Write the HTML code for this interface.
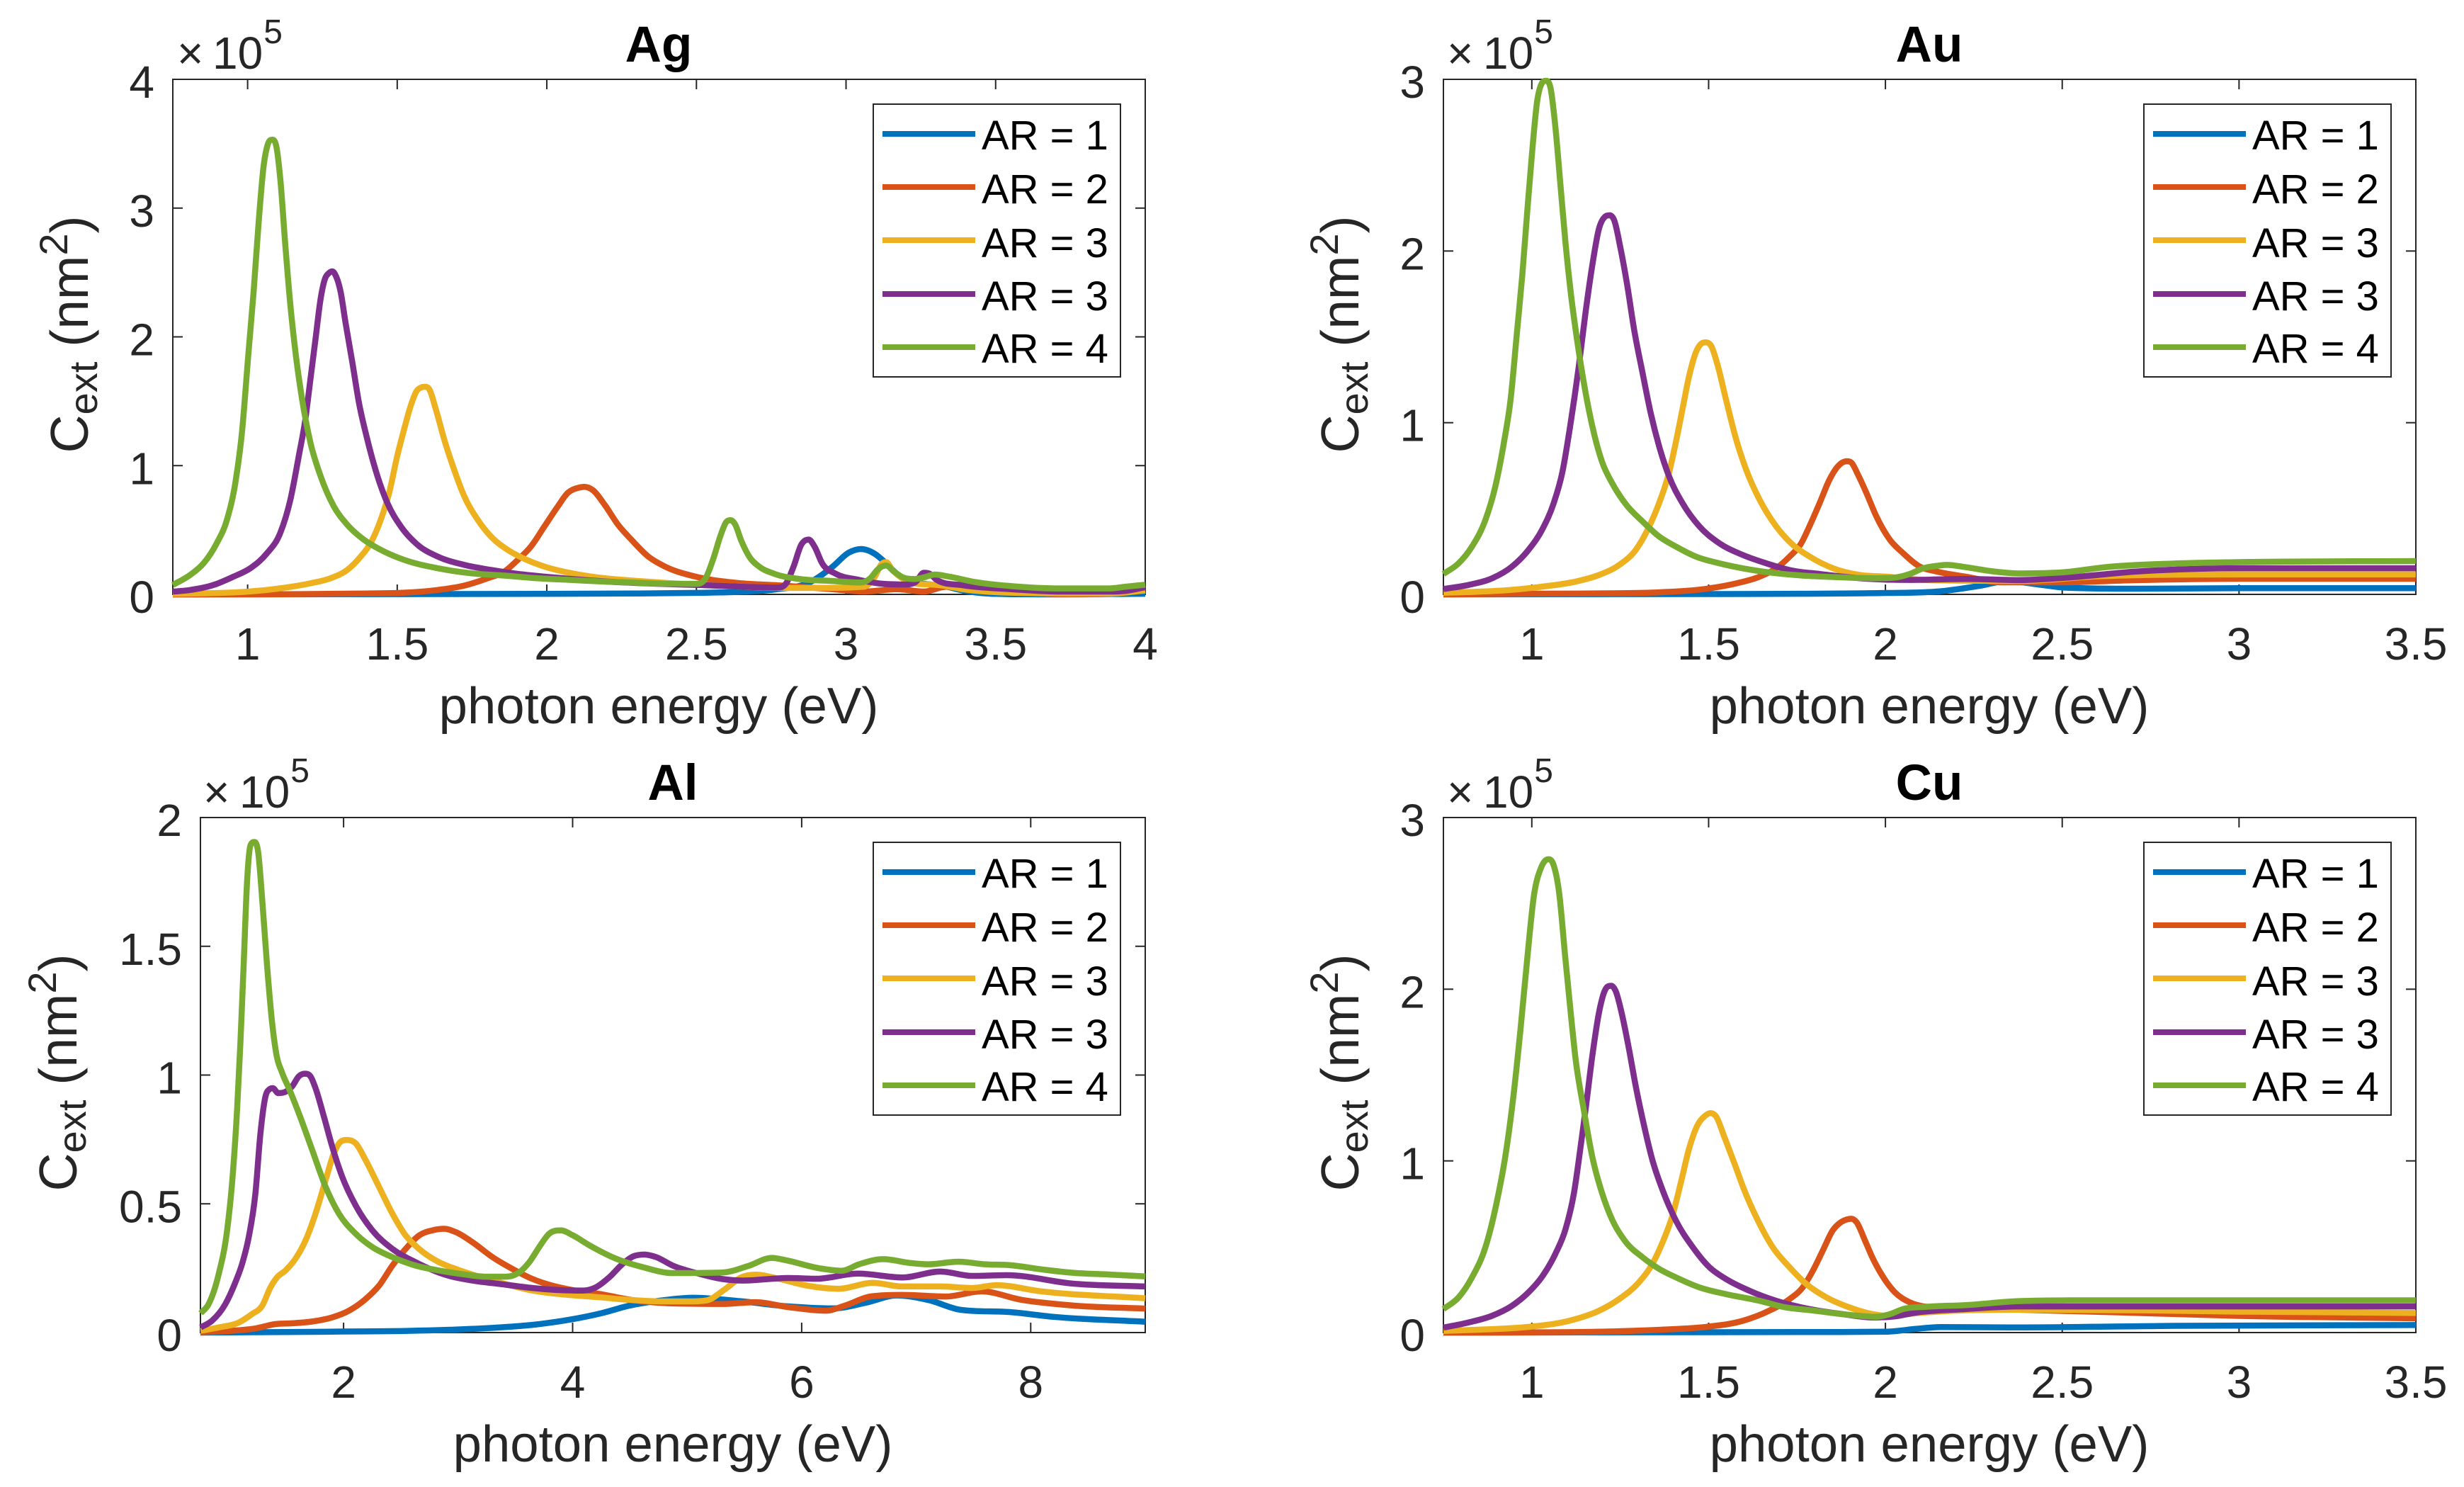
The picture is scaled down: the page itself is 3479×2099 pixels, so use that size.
<!DOCTYPE html>
<html lang="en">
<head>
<meta charset="utf-8">
<title>Extinction cross section vs photon energy</title>
<style>
html,body{margin:0;padding:0;background:#fff;}
svg{display:block;font-family:"Liberation Sans",sans-serif;}
.box{fill:#fff;stroke:#262626;stroke-width:2;}
.title{font-size:71px;font-weight:bold;text-anchor:middle;fill:#000;}
.xlabel{font-size:72.5px;text-anchor:middle;fill:#262626;}
.ylabel{font-size:75px;text-anchor:middle;fill:#262626;}
.mult{font-size:64px;fill:#262626;}
.tick{font-size:64px;fill:#262626;}
.leg-box{fill:#fff;stroke:#262626;stroke-width:2;}
.leg-text{font-size:58px;fill:#000;}
.leg-line{stroke-width:8;fill:none;}
.c1{stroke:#0072BD;}.c2{stroke:#D95319;}.c3{stroke:#EDB120;}.c4{stroke:#7E2F8E;}.c5{stroke:#77AC30;}
</style>
</head>
<body>
<svg xmlns="http://www.w3.org/2000/svg" width="3479" height="2099" viewBox="0 0 3479 2099">

<!-- Ag -->
<g>
  <rect class="box" x="244" y="112" width="1373" height="727"/>
  <g id="ag-ticks"></g>
  <g id="ag-lines"></g>
  <text class="title" x="930" y="87">Ag</text>
  <text class="xlabel" x="930" y="1021">photon energy (eV)</text>
  <text class="ylabel" transform="translate(124,472) rotate(-90)">C<tspan font-size="56" dy="13">ext</tspan><tspan dy="-13" xml:space="preserve"> (nm</tspan><tspan font-size="56" dy="-29">2</tspan><tspan dy="29">)</tspan></text>
  <text class="mult" y="97"><tspan x="250">×</tspan><tspan x="300">10</tspan><tspan font-size="48" dy="-36" dx="1">5</tspan></text>
  <g transform="translate(1233,147)">
    <rect class="leg-box" width="349" height="385"/>
    <line class="leg-line c1" x1="13" x2="144" y1="42" y2="42"/><text class="leg-text" x="153" y="64">AR = 1</text>
    <line class="leg-line c2" x1="13" x2="144" y1="117" y2="117"/><text class="leg-text" x="153" y="140">AR = 2</text>
    <line class="leg-line c3" x1="13" x2="144" y1="192" y2="192"/><text class="leg-text" x="153" y="216">AR = 3</text>
    <line class="leg-line c4" x1="13" x2="144" y1="268" y2="268"/><text class="leg-text" x="153" y="291">AR = 3</text>
    <line class="leg-line c5" x1="13" x2="144" y1="343" y2="343"/><text class="leg-text" x="153" y="365">AR = 4</text>
  </g>
</g>

<!-- Au -->
<g>
  <rect class="box" x="2038" y="112" width="1373" height="727"/>
  <g id="au-ticks"></g>
  <g id="au-lines"></g>
  <text class="title" x="2724" y="87">Au</text>
  <text class="xlabel" x="2724" y="1021">photon energy (eV)</text>
  <text class="ylabel" transform="translate(1918,472) rotate(-90)">C<tspan font-size="56" dy="13">ext</tspan><tspan dy="-13" xml:space="preserve"> (nm</tspan><tspan font-size="56" dy="-29">2</tspan><tspan dy="29">)</tspan></text>
  <text class="mult" y="97"><tspan x="2043">×</tspan><tspan x="2094">10</tspan><tspan font-size="48" dy="-36" dx="1">5</tspan></text>
  <g transform="translate(3027,147)">
    <rect class="leg-box" width="349" height="385"/>
    <line class="leg-line c1" x1="13" x2="144" y1="42" y2="42"/><text class="leg-text" x="153" y="64">AR = 1</text>
    <line class="leg-line c2" x1="13" x2="144" y1="117" y2="117"/><text class="leg-text" x="153" y="140">AR = 2</text>
    <line class="leg-line c3" x1="13" x2="144" y1="192" y2="192"/><text class="leg-text" x="153" y="216">AR = 3</text>
    <line class="leg-line c4" x1="13" x2="144" y1="268" y2="268"/><text class="leg-text" x="153" y="291">AR = 3</text>
    <line class="leg-line c5" x1="13" x2="144" y1="343" y2="343"/><text class="leg-text" x="153" y="365">AR = 4</text>
  </g>
</g>

<!-- Al -->
<g>
  <rect class="box" x="283" y="1154" width="1334" height="727"/>
  <g id="al-ticks"></g>
  <g id="al-lines"></g>
  <text class="title" x="950" y="1129">Al</text>
  <text class="xlabel" x="950" y="2063">photon energy (eV)</text>
  <text class="ylabel" transform="translate(108,1514) rotate(-90)">C<tspan font-size="56" dy="13">ext</tspan><tspan dy="-13" xml:space="preserve"> (nm</tspan><tspan font-size="56" dy="-29">2</tspan><tspan dy="29">)</tspan></text>
  <text class="mult" y="1140"><tspan x="287">×</tspan><tspan x="338">10</tspan><tspan font-size="48" dy="-36" dx="1">5</tspan></text>
  <g transform="translate(1233,1189)">
    <rect class="leg-box" width="349" height="385"/>
    <line class="leg-line c1" x1="13" x2="144" y1="42" y2="42"/><text class="leg-text" x="153" y="64">AR = 1</text>
    <line class="leg-line c2" x1="13" x2="144" y1="117" y2="117"/><text class="leg-text" x="153" y="140">AR = 2</text>
    <line class="leg-line c3" x1="13" x2="144" y1="192" y2="192"/><text class="leg-text" x="153" y="216">AR = 3</text>
    <line class="leg-line c4" x1="13" x2="144" y1="268" y2="268"/><text class="leg-text" x="153" y="291">AR = 3</text>
    <line class="leg-line c5" x1="13" x2="144" y1="343" y2="343"/><text class="leg-text" x="153" y="365">AR = 4</text>
  </g>
</g>

<!-- Cu -->
<g>
  <rect class="box" x="2038" y="1154" width="1373" height="727"/>
  <g id="cu-ticks"></g>
  <g id="cu-lines"></g>
  <text class="title" x="2724" y="1129">Cu</text>
  <text class="xlabel" x="2724" y="2063">photon energy (eV)</text>
  <text class="ylabel" transform="translate(1918,1514) rotate(-90)">C<tspan font-size="56" dy="13">ext</tspan><tspan dy="-13" xml:space="preserve"> (nm</tspan><tspan font-size="56" dy="-29">2</tspan><tspan dy="29">)</tspan></text>
  <text class="mult" y="1140"><tspan x="2043">×</tspan><tspan x="2094">10</tspan><tspan font-size="48" dy="-36" dx="1">5</tspan></text>
  <g transform="translate(3027,1189)">
    <rect class="leg-box" width="349" height="385"/>
    <line class="leg-line c1" x1="13" x2="144" y1="42" y2="42"/><text class="leg-text" x="153" y="64">AR = 1</text>
    <line class="leg-line c2" x1="13" x2="144" y1="117" y2="117"/><text class="leg-text" x="153" y="140">AR = 2</text>
    <line class="leg-line c3" x1="13" x2="144" y1="192" y2="192"/><text class="leg-text" x="153" y="216">AR = 3</text>
    <line class="leg-line c4" x1="13" x2="144" y1="268" y2="268"/><text class="leg-text" x="153" y="291">AR = 3</text>
    <line class="leg-line c5" x1="13" x2="144" y1="343" y2="343"/><text class="leg-text" x="153" y="365">AR = 4</text>
  </g>
</g>
</svg>

<script>
// Tick labels
const agXTicks = ['1','1.5','2','2.5','3','3.5','4'];
const agYTicks = ['0','1','2','3','4'];
const auXTicks = ['1','1.5','2','2.5','3','3.5'];
const auYTicks = ['0','1','2','3'];
const alXTicks = ['2','4','6','8'];
const alYTicks = ['0','0.5','1','1.5','2'];
const cuXTicks = ['1','1.5','2','2.5','3','3.5'];
const cuYTicks = ['0','1','2','3'];

// Ag: photon energy (eV) / Cext (x 1e5 nm^2)
const agE1 = [.75,1.5,2,2.3,2.5,2.65,2.77,2.88,2.955,3.01,3.05,3.096,3.13,3.17,3.227,3.28,3.335,3.39,3.5,3.7,4];
const agC1 = [0,.002,.004,.007,.012,.02,.04,.095,.215,.325,.352,.315,.25,.16,.095,.077,.06,.03,.004,0,.005];
const agE2 = [.75,1,1.3,1.523,1.635,1.724,1.802,1.858,1.903,1.947,1.992,2.037,2.07,2.104,2.126,2.154,2.193,2.238,2.283,2.339,2.395,2.493,2.63,2.79,2.955,3.06,3.17,3.26,3.335,3.39,3.5,3.6,3.75,3.88,4];
const agC2 = [0,0,.005,.013,.034,.068,.125,.177,.268,.372,.528,.684,.788,.827,.835,.809,.697,.541,.424,.294,.216,.14,.09,.068,.04,.022,.04,.022,.059,.05,.03,.012,.002,.005,.03];
const agE3 = [.75,.853,.998,1.109,1.21,1.277,1.333,1.378,1.411,1.445,1.473,1.5,1.523,1.545,1.565,1.581,1.592,1.607,1.629,1.657,1.69,1.724,1.769,1.813,1.869,1.925,1.992,2.082,2.193,2.305,2.417,2.5,2.65,2.77,2.9,3.06,3.097,3.118,3.134,3.156,3.183,3.237,3.28,3.325,3.39,3.553,3.879,4];
const agC3 = [.005,.008,.021,.047,.086,.125,.19,.294,.398,.58,.788,1.074,1.282,1.464,1.58,1.608,1.612,1.594,1.438,1.204,.97,.762,.58,.45,.346,.276,.216,.164,.125,.104,.086,.075,.06,.05,.05,.06,.14,.233,.25,.187,.132,.082,.077,.068,.04,.013,.007,.03];
const agE4 = [.75,.808,.886,.953,1.009,1.065,1.109,1.143,1.171,1.193,1.21,1.227,1.244,1.257,1.272,1.283,1.294,1.311,1.327,1.35,1.372,1.4,1.434,1.467,1.512,1.568,1.635,1.724,1.813,1.903,1.992,2.082,2.2,2.4,2.52,2.65,2.77,2.8,2.825,2.85,2.875,2.895,2.92,2.966,3.04,3.107,3.194,3.232,3.26,3.28,3.302,3.39,3.553,3.716,3.879,3.933,4];
const agC4 = [.021,.034,.073,.138,.203,.32,.476,.736,1.074,1.36,1.672,1.984,2.296,2.44,2.496,2.509,2.478,2.348,2.114,1.802,1.49,1.204,.918,.71,.528,.385,.294,.229,.19,.159,.138,.12,.1,.08,.072,.06,.053,.086,.218,.384,.426,.37,.242,.16,.114,.086,.077,.095,.168,.16,.114,.071,.04,.022,.022,.027,.055];
const agE5 = [.75,.808,.853,.897,.931,.959,.981,1.003,1.02,1.037,1.054,1.067,1.082,1.096,1.109,1.126,1.143,1.16,1.182,1.21,1.244,1.288,1.333,1.389,1.445,1.523,1.635,1.746,1.858,1.97,2.082,2.193,2.305,2.41,2.5,2.53,2.558,2.58,2.6,2.615,2.629,2.65,2.678,2.71,2.76,2.846,2.955,3.05,3.08,3.107,3.134,3.16,3.19,3.227,3.26,3.297,3.346,3.433,3.553,3.716,3.879,3.933,4];
const agC5 = [.073,.151,.242,.398,.58,.866,1.256,1.88,2.348,2.894,3.336,3.492,3.531,3.479,3.232,2.712,2.244,1.88,1.516,1.178,.918,.684,.541,.424,.346,.268,.203,.164,.146,.125,.112,.099,.09,.082,.082,.123,.288,.453,.563,.576,.545,.416,.288,.215,.16,.119,.104,.092,.123,.196,.224,.178,.132,.119,.132,.154,.137,.095,.064,.046,.046,.059,.075];

// Au
const auE1 = [.75,1.5,2,2.156,2.267,2.345,2.42,2.51,2.71,3,3.5];
const auC1 = [0,.002,.008,.018,.05,.078,.061,.039,.033,.036,.036];
const auE2 = [.75,1.029,1.218,1.36,1.502,1.578,1.644,1.691,1.729,1.762,1.785,1.814,1.842,1.866,1.88,1.891,1.904,1.922,1.946,1.974,2.012,2.05,2.097,2.145,2.228,2.33,2.49,2.71,3,3.5];
const auC2 = [0,.004,.006,.012,.035,.064,.103,.152,.22,.298,.396,.532,.669,.747,.77,.776,.767,.699,.592,.456,.32,.24,.162,.133,.103,.07,.07,.083,.091,.091];
const auE3 = [.75,.84,.935,1.029,1.123,1.19,1.247,1.294,1.332,1.36,1.388,1.407,1.426,1.445,1.464,1.478,1.492,1.507,1.526,1.549,1.578,1.606,1.644,1.691,1.738,1.785,1.852,1.927,2.003,2.1,2.228,2.378,2.6,3,3.5];
const auC3 = [.01,.015,.025,.045,.074,.113,.171,.259,.396,.532,.708,.883,1.078,1.273,1.41,1.458,1.468,1.448,1.331,1.136,.902,.727,.552,.396,.289,.221,.152,.113,.103,.085,.08,.078,.105,.116,.116];
const auE4 = [.75,.821,.888,.944,.991,1.029,1.062,1.086,1.11,1.133,1.152,1.171,1.19,1.207,1.22,1.233,1.251,1.27,1.289,1.313,1.336,1.36,1.388,1.426,1.474,1.53,1.596,1.663,1.738,1.814,1.88,1.955,2.069,2.228,2.378,2.51,2.71,3,3.5];
const auC4 = [.031,.055,.094,.162,.26,.376,.532,.708,1.001,1.33,1.643,1.916,2.131,2.2,2.208,2.179,2.014,1.799,1.546,1.292,1.058,.863,.688,.532,.396,.298,.23,.181,.138,.119,.103,.09,.084,.09,.083,.097,.133,.152,.152];
const auE5 = [.75,.793,.831,.869,.897,.921,.94,.958,.973,.987,1.001,1.015,1.029,1.041,1.053,1.067,1.081,1.095,1.11,1.129,1.147,1.171,1.199,1.228,1.266,1.313,1.36,1.407,1.464,1.53,1.596,1.691,1.785,1.88,1.974,2.031,2.069,2.107,2.145,2.173,2.228,2.3,2.378,2.51,2.62,2.82,3,3.5];
const auC5 = [.119,.181,.279,.435,.63,.883,1.136,1.526,1.858,2.228,2.579,2.871,2.979,2.992,2.949,2.715,2.384,2.053,1.76,1.468,1.234,.981,.77,.645,.525,.425,.337,.279,.22,.181,.152,.123,.107,.099,.094,.099,.119,.152,.166,.172,.158,.135,.122,.13,.158,.18,.188,.194];

// Al
const alE1 = [.75,1.5,2,2.5,3,3.36,3.65,4,4.25,4.5,4.82,5.05,5.46,5.87,6.28,6.56,6.83,7.11,7.38,7.83,8.2,9];
const alC1 = [0,.002,.004,.006,.012,.02,.03,.052,.075,.105,.127,.135,.122,.102,.094,.116,.144,.126,.089,.079,.061,.042];
const alE2 = [.75,1.026,1.23,1.405,1.551,1.726,1.901,2.047,2.192,2.309,2.426,2.542,2.659,2.776,2.878,2.98,3.125,3.3,3.475,3.65,3.825,4,4.233,4.525,4.816,5.306,5.6,5.88,6.21,6.38,6.6,6.88,7.26,7.57,7.92,8.37,9];
const alC2 = [.001,.007,.016,.033,.036,.043,.059,.085,.13,.182,.26,.325,.377,.397,.403,.39,.351,.293,.247,.208,.182,.165,.15,.126,.114,.111,.118,.099,.085,.105,.14,.146,.14,.16,.127,.105,.093];
const alE3 = [.752,.91,1.085,1.201,1.289,1.362,1.42,1.493,1.58,1.668,1.755,1.843,1.915,1.974,2.032,2.105,2.192,2.309,2.426,2.542,2.659,2.834,2.98,3.125,3.359,3.65,3.942,4.233,4.525,4.816,5.02,5.17,5.33,5.47,5.6,5.8,6.05,6.32,6.62,6.88,7.21,7.49,7.7,8.09,9];
const alC3 = [.007,.02,.039,.072,.104,.176,.215,.241,.287,.358,.462,.592,.696,.741,.748,.735,.67,.566,.462,.377,.325,.273,.247,.225,.195,.163,.147,.137,.126,.121,.121,.125,.168,.214,.225,.209,.182,.17,.193,.179,.179,.173,.184,.16,.133];
const alE4 = [.752,.851,.968,1.055,1.114,1.172,1.23,1.274,1.318,1.353,1.382,1.429,1.493,1.551,1.609,1.662,1.711,1.755,1.828,1.901,1.988,2.105,2.251,2.426,2.63,2.863,3.125,3.359,3.65,3.883,4.087,4.204,4.321,4.437,4.525,4.627,4.729,4.875,5.108,5.306,5.49,5.88,6.13,6.49,6.88,7.21,7.49,7.79,8.37,9];
const alC4 = [.02,.046,.111,.195,.267,.371,.54,.774,.917,.945,.949,.93,.935,.956,.995,1.005,.995,.949,.839,.722,.605,.494,.397,.325,.273,.228,.202,.189,.173,.165,.163,.176,.215,.267,.295,.303,.293,.26,.228,.208,.202,.212,.209,.229,.214,.237,.22,.223,.19,.179];
const alE5 = [.752,.822,.91,.983,1.026,1.07,1.099,1.128,1.157,1.187,1.222,1.254,1.289,1.332,1.376,1.411,1.464,1.522,1.609,1.726,1.843,1.959,2.105,2.251,2.426,2.63,2.834,3.067,3.242,3.417,3.534,3.621,3.708,3.796,3.898,4,4.146,4.379,4.612,4.875,5.306,5.53,5.74,5.87,6.15,6.35,6.5,6.71,6.95,7.1,7.37,7.6,7.81,8.1,8.37,8.7,9];
const alC5 = [.075,.111,.228,.397,.579,.865,1.125,1.434,1.749,1.892,1.905,1.866,1.684,1.424,1.203,1.086,1.008,.949,.852,.709,.566,.462,.384,.332,.293,.26,.241,.225,.217,.217,.234,.273,.332,.384,.397,.378,.339,.287,.254,.231,.233,.258,.29,.28,.25,.24,.265,.285,.27,.265,.275,.265,.262,.245,.232,.225,.218];

// Cu
const cuE1 = [.75,1.5,2,2.09,2.156,2.378,2.82,3.5];
const cuC1 = [0,.002,.005,.022,.032,.03,.039,.044];
const cuE2 = [.75,1,1.218,1.36,1.502,1.596,1.671,1.729,1.766,1.795,1.823,1.851,1.875,1.891,1.904,1.918,1.942,1.965,1.994,2.027,2.069,2.116,2.228,2.378,2.7,3,3.5];
const cuC2 = [0,.001,.006,.016,.035,.068,.127,.195,.263,.361,.478,.595,.644,.659,.663,.644,.537,.429,.322,.234,.176,.15,.14,.133,.115,.097,.083];
const cuE3 = [.75,.84,1,1.105,1.19,1.247,1.303,1.341,1.37,1.398,1.422,1.445,1.469,1.488,1.505,1.521,1.544,1.573,1.601,1.639,1.681,1.729,1.776,1.833,1.899,1.965,2.003,2.1,2.228,2.378,2.7,3,3.5];
const cuC3 = [.01,.016,.035,.068,.127,.195,.293,.4,.527,.683,.878,1.073,1.21,1.259,1.278,1.259,1.142,.985,.829,.654,.498,.38,.283,.205,.146,.107,.098,.115,.13,.133,.13,.122,.114];
const cuE4 = [.75,.821,.888,.944,.991,1.029,1.067,1.095,1.119,1.138,1.152,1.171,1.19,1.206,1.215,1.225,1.237,1.256,1.275,1.294,1.318,1.341,1.37,1.407,1.455,1.502,1.549,1.615,1.691,1.785,1.88,1.965,2.022,2.088,2.228,2.378,3,3.5];
const cuC4 = [.029,.059,.098,.156,.235,.325,.46,.6,.81,1.083,1.298,1.61,1.864,1.99,2.016,2.02,1.99,1.844,1.649,1.434,1.2,1.005,.829,.654,.498,.381,.312,.244,.185,.137,.107,.088,.093,.117,.137,.152,.152,.152];
const cuE5 = [.75,.793,.831,.869,.902,.925,.949,.968,.987,1.006,1.025,1.039,1.048,1.06,1.077,1.095,1.11,1.124,1.147,1.171,1.199,1.228,1.266,1.313,1.36,1.407,1.474,1.549,1.644,1.719,1.785,1.88,1.974,2.012,2.05,2.116,2.228,2.378,2.6,3.5];
const cuC5 = [.137,.205,.322,.498,.771,1.025,1.396,1.766,2.176,2.546,2.702,2.751,2.757,2.732,2.566,2.176,1.863,1.59,1.298,1.024,.81,.654,.527,.439,.371,.322,.263,.224,.185,.146,.131,.107,.092,.107,.137,.15,.16,.183,.188,.188];

const SVGNS = 'http://www.w3.org/2000/svg';
const COLORS = ['#0072BD','#D95319','#EDB120','#7E2F8E','#77AC30'];

function smoothPath(px, py) {
  const n = px.length, d = [], m = new Array(n);
  for (let i = 0; i < n - 1; i++) d[i] = (py[i + 1] - py[i]) / (px[i + 1] - px[i]);
  m[0] = d[0]; m[n - 1] = d[n - 2];
  for (let i = 1; i < n - 1; i++) {
    if (d[i - 1] * d[i] <= 0) { m[i] = 0; continue; }
    const h0 = px[i] - px[i - 1], h1 = px[i + 1] - px[i];
    const slope = (h1 * d[i - 1] + h0 * d[i]) / (h0 + h1);
    const limit = 3 * Math.min(Math.abs(d[i - 1]), Math.abs(d[i]));
    m[i] = Math.abs(slope) > limit ? Math.sign(slope) * limit : slope;
  }
  let s = 'M' + px[0].toFixed(2) + ' ' + py[0].toFixed(2);
  for (let i = 0; i < n - 1; i++) {
    const h = (px[i + 1] - px[i]) / 3;
    s += 'C' + (px[i] + h).toFixed(2) + ' ' + (py[i] + m[i] * h).toFixed(2) + ' ' +
         (px[i + 1] - h).toFixed(2) + ' ' + (py[i + 1] - m[i + 1] * h).toFixed(2) + ' ' +
         px[i + 1].toFixed(2) + ' ' + py[i + 1].toFixed(2);
  }
  return s;
}

function drawPanel(id, box, xDomain, yDomain, xTicks, yTicks, energies, values) {
  const xPos = v => box.left + (v - xDomain[0]) / (xDomain[1] - xDomain[0]) * box.width;
  const yPos = v => box.top + box.height - (v - yDomain[0]) / (yDomain[1] - yDomain[0]) * box.height;
  const tickGroup = document.getElementById(id + '-ticks');
  const lineGroup = document.getElementById(id + '-lines');
  const TL = 14, bottom = box.top + box.height, right = box.left + box.width;

  function tickMark(x1, y1, x2, y2) {
    const el = document.createElementNS(SVGNS, 'line');
    el.setAttribute('x1', x1); el.setAttribute('y1', y1);
    el.setAttribute('x2', x2); el.setAttribute('y2', y2);
    el.setAttribute('stroke', '#262626'); el.setAttribute('stroke-width', '2');
    
    
    tickGroup.appendChild(el);
  }

  xTicks.forEach(label => {
    const x = xPos(parseFloat(label));
    if (x < right - 1) { tickMark(x, bottom, x, bottom - TL); tickMark(x, box.top, x, box.top + TL); }
    const el = document.createElementNS(SVGNS, 'text');
    el.setAttribute('class', 'tick');
    el.setAttribute('x', x);
    el.setAttribute('y', bottom + 92);
    el.setAttribute('text-anchor', 'middle');
    
    
    el.textContent = label;
    tickGroup.appendChild(el);
  });

  yTicks.forEach(label => {
    const y = yPos(parseFloat(label));
    if (y > box.top + 1 && y < bottom - 1) { tickMark(box.left, y, box.left + TL, y); tickMark(right, y, right - TL, y); }
    const el = document.createElementNS(SVGNS, 'text');
    el.setAttribute('class', 'tick');
    el.setAttribute('x', box.left - 26);
    el.setAttribute('y', y + 26);
    el.setAttribute('text-anchor', 'end');
    
    
    el.textContent = label;
    tickGroup.appendChild(el);
  });

  energies.forEach((es, i) => {
    const el = document.createElementNS(SVGNS, 'path');
    el.setAttribute('d', smoothPath(es.map(xPos), values[i].map(yPos)));
    el.setAttribute('fill', 'none');
    el.setAttribute('stroke', COLORS[i]);
    el.setAttribute('stroke-width', '8.5');
    el.setAttribute('stroke-linejoin', 'round');
    
    
    lineGroup.appendChild(el);
  });
}

drawPanel('ag', {left:244, top:112, width:1373, height:727}, [.75,4], [0,4], agXTicks, agYTicks,
  [agE1,agE2,agE3,agE4,agE5], [agC1,agC2,agC3,agC4,agC5]);
drawPanel('au', {left:2038, top:112, width:1373, height:727}, [.75,3.5], [0,3], auXTicks, auYTicks,
  [auE1,auE2,auE3,auE4,auE5], [auC1,auC2,auC3,auC4,auC5]);
drawPanel('al', {left:283, top:1154, width:1334, height:727}, [.75,9], [0,2], alXTicks, alYTicks,
  [alE1,alE2,alE3,alE4,alE5], [alC1,alC2,alC3,alC4,alC5]);
drawPanel('cu', {left:2038, top:1154, width:1373, height:727}, [.75,3.5], [0,3], cuXTicks, cuYTicks,
  [cuE1,cuE2,cuE3,cuE4,cuE5], [cuC1,cuC2,cuC3,cuC4,cuC5]);
</script>
</body>
</html>
